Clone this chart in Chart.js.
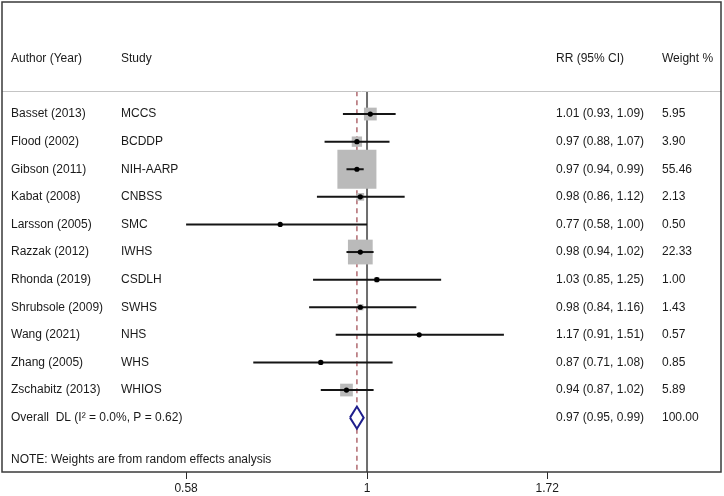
<!DOCTYPE html>
<html><head><meta charset="utf-8">
<script src="https://cdn.jsdelivr.net/npm/chart.js@4/dist/chart.umd.min.js"></script>
<style>html,body{margin:0;padding:0;background:#fff}#wrap{width:724px;height:496px;position:relative}</style>
</head><body><div id="wrap"><canvas id="c"></canvas></div>
<script>
// ---- data ----
const authors = ['Basset (2013)','Flood (2002)','Gibson (2011)','Kabat (2008)','Larsson (2005)','Razzak (2012)','Rhonda (2019)','Shrubsole (2009)','Wang (2021)','Zhang (2005)','Zschabitz (2013)'];
const studies = ['MCCS','BCDDP','NIH-AARP','CNBSS','SMC','IWHS','CSDLH','SWHS','NHS','WHS','WHIOS'];
const rr      = [1.01, 0.97, 0.97, 0.98, 0.77, 0.98, 1.03, 0.98, 1.17, 0.87, 0.94];
const lo      = [0.93, 0.88, 0.94, 0.86, 0.58, 0.94, 0.85, 0.84, 0.91, 0.71, 0.87];
const hi      = [1.09, 1.07, 0.99, 1.12, 1.00, 1.02, 1.25, 1.16, 1.51, 1.08, 1.02];
const weights = [5.95, 3.90, 55.46, 2.13, 0.50, 22.33, 1.00, 1.43, 0.57, 0.85, 5.89];
const overallLabel = 'Overall  DL (I\u00B2 = 0.0%, P = 0.62)';
const overallRR = 0.97, overallLo = 0.95, overallHi = 0.99, overallWeight = 100.00;
const nullValue = 1;
const tickValues = [0.58, 1, 1.72];
const headers = ['Author (Year)', 'Study', 'RR (95% CI)', 'Weight %'];
const note = 'NOTE: Weights are from random effects analysis';

// ---- layout (row units) ----
const yTop = -4.06, yBottom = 12.97;
const headerRow = -2, sepRow = -0.83, noteRow = 12.54;
const overallRow = studies.length;
const diamondHalf = 0.4;
const FONT = '"Liberation Sans", Arial, Helvetica, sans-serif';

const rows = studies.map((_, i) => i);
const boxScale = 5.24; // px per sqrt(weight)

const datasets = [];
// reference null line
datasets.push({ data: [{x: nullValue, y: sepRow}, {x: nullValue, y: yBottom}], showLine: true, borderColor: '#6e6e6e', borderWidth: 2, pointRadius: 0, order: 5 });
// overall dashed line, broken around the diamond
datasets.push({ data: [{x: overallRR, y: sepRow}, {x: overallRR, y: overallRow - diamondHalf}], showLine: true, borderColor: '#b06a70', borderWidth: 1.5, borderDash: [5, 4], pointRadius: 0, order: 4 });
datasets.push({ data: [{x: overallRR, y: overallRow + diamondHalf}, {x: overallRR, y: yBottom}], showLine: true, borderColor: '#b06a70', borderWidth: 1.5, borderDash: [5, 4], pointRadius: 0, order: 4 });
// weight boxes
datasets.push({ data: rows.map(i => ({x: rr[i], y: i})), pointStyle: 'rect', pointRadius: weights.map(w => boxScale * Math.sqrt(w) / Math.SQRT2), backgroundColor: '#bababa', borderWidth: 0, order: 3 });
// CI lines
rows.forEach(i => datasets.push({ data: [{x: lo[i], y: i}, {x: hi[i], y: i}], showLine: true, borderColor: '#151515', borderWidth: 2, pointRadius: 0, order: 2 }));
// point estimates
datasets.push({ data: rows.map(i => ({x: rr[i], y: i})), pointStyle: 'circle', pointRadius: 2.6, backgroundColor: '#000', borderWidth: 0, order: 1 });
// overall diamond
datasets.push({ data: [
  {x: overallLo, y: overallRow}, {x: overallRR, y: overallRow - diamondHalf},
  {x: overallHi, y: overallRow}, {x: overallRR, y: overallRow + diamondHalf},
  {x: overallLo, y: overallRow}], showLine: true, borderColor: '#1e1e8c', borderWidth: 2, pointRadius: 0, tension: 0, borderJoinStyle: 'miter', order: 0 });

const fmtCI = (a, b, c) => a.toFixed(2) + ' (' + b.toFixed(2) + ', ' + c.toFixed(2) + ')';

const decor = {
  id: 'decor',
  afterDraw(chart) {
    const {ctx, chartArea: a, scales: {y}} = chart;
    ctx.save();
    // header separator
    const ys = Math.round(y.getPixelForValue(sepRow)) + 0.5;
    ctx.strokeStyle = '#c4c4c4'; ctx.lineWidth = 1;
    ctx.beginPath(); ctx.moveTo(a.left, ys); ctx.lineTo(a.right, ys); ctx.stroke();
    // frame
    ctx.strokeStyle = '#3a3a3a'; ctx.lineWidth = 1.5;
    ctx.strokeRect(a.left, a.top, a.right - a.left, a.bottom - a.top);
    // text
    ctx.font = '12px ' + FONT; ctx.fillStyle = '#1a1a1a'; ctx.textBaseline = 'middle'; ctx.textAlign = 'left';
    const cols = [a.left + 9, a.left + 119, a.left + 554, a.left + 660];
    const hy = y.getPixelForValue(headerRow);
    headers.forEach((h, k) => ctx.fillText(h, cols[k], hy));
    rows.forEach(i => {
      const py = y.getPixelForValue(i);
      ctx.fillText(authors[i], cols[0], py);
      ctx.fillText(studies[i], cols[1], py);
      ctx.fillText(fmtCI(rr[i], lo[i], hi[i]), cols[2], py);
      ctx.fillText(weights[i].toFixed(2), cols[3], py);
    });
    const oy = y.getPixelForValue(overallRow);
    ctx.fillText(overallLabel, cols[0], oy);
    ctx.fillText(fmtCI(overallRR, overallLo, overallHi), cols[2], oy);
    ctx.fillText(overallWeight.toFixed(2), cols[3], oy);
    ctx.fillText(note, cols[0], y.getPixelForValue(noteRow));
    ctx.restore();
  }
};

new Chart(document.getElementById('c'), {
  type: 'scatter',
  data: { datasets },
  options: {
    responsive: true, maintainAspectRatio: false, animation: false,
    layout: { autoPadding: false, padding: { left: 2, right: 3, top: 2, bottom: 0 } },
    plugins: { legend: { display: false }, tooltip: { enabled: false } },
    elements: { line: { fill: false } },
    scales: {
      x: {
        type: 'logarithmic', min: 0.3332, max: 2.903, bounds: 'data',
        afterBuildTicks(s) { s.ticks = tickValues.map(v => ({ value: v })); },
        afterFit(s) { s.height = 24; },
        grid: { display: true, drawOnChartArea: false, drawTicks: true, tickLength: 7, color: '#2a2a2a', lineWidth: 1 },
        border: { display: false },
        ticks: { autoSkip: false, maxRotation: 0, minRotation: 0, padding: 2, color: '#1a1a1a', font: { family: FONT, size: 12 }, callback: v => String(v) }
      },
      y: { type: 'linear', reverse: true, min: yTop, max: yBottom, bounds: 'data', display: false }
    }
  },
  plugins: [decor]
});
</script>
</body></html>
